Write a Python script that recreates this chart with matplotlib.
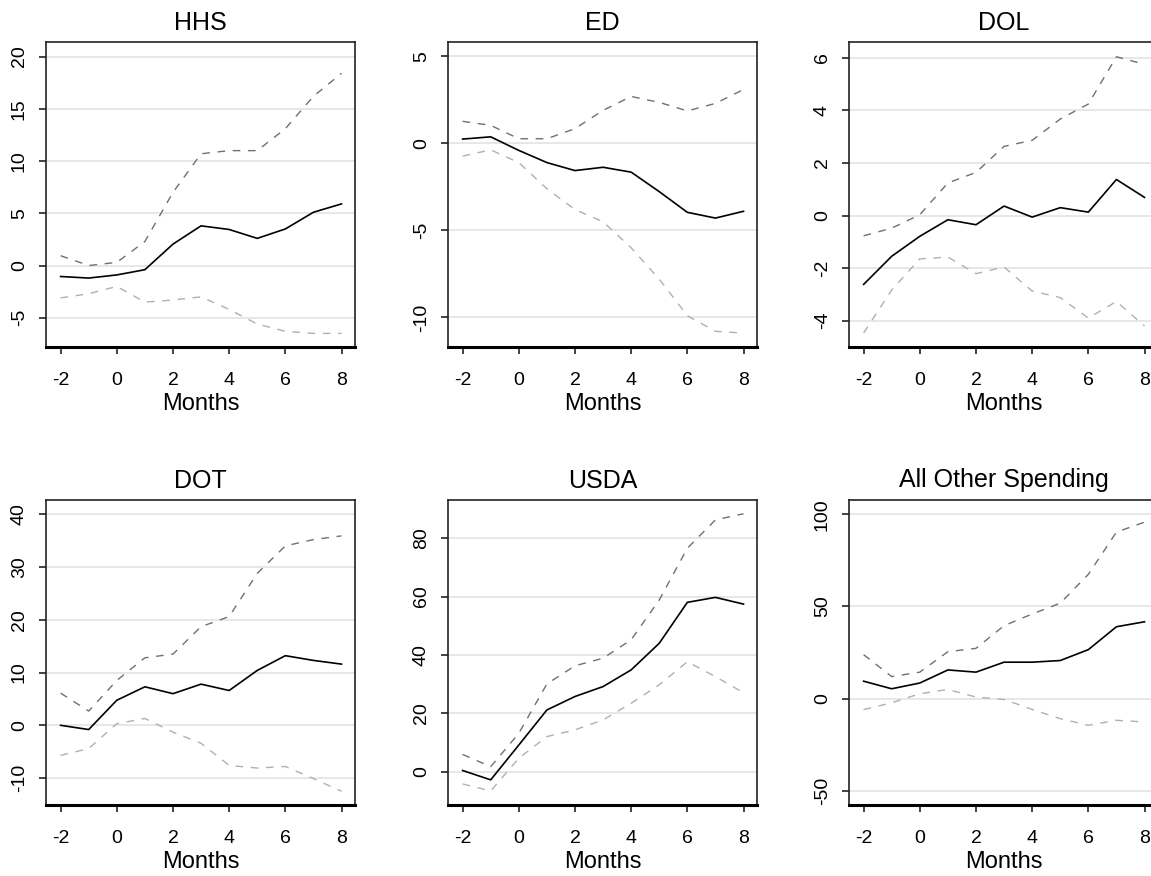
import numpy as np
import matplotlib
matplotlib.use("Agg")
import matplotlib.pyplot as plt

plt.rcParams['font.family'] = ['Liberation Sans', 'DejaVu Sans']
plt.rcParams['axes.unicode_minus'] = False

months = [-2, -1, 0, 1, 2, 3, 4, 5, 6, 7, 8]

titles = ["HHS", "ED", "DOL", "DOT", "USDA", "All Other Spending"]

# point estimates
hhs_est = [-1.05, -1.2, -0.9, -0.4, 2.05, 3.8, 3.45, 2.6, 3.5, 5.1, 5.9]
ed_est = [0.25, 0.38, -0.4, -1.1, -1.56, -1.37, -1.65, -2.77, -3.96, -4.29, -3.9]
dol_est = [-2.62, -1.55, -0.79, -0.16, -0.35, 0.36, -0.06, 0.3, 0.13, 1.37, 0.69]
dot_est = [0.0, -0.8, 4.75, 7.3, 6.0, 7.8, 6.6, 10.4, 13.2, 12.3, 11.6]
usda_est = [0.5, -2.7, 9.2, 21.2, 25.8, 29.2, 34.9, 44.0, 58.0, 59.7, 57.4]
other_est = [9.5, 5.4, 8.5, 15.6, 14.4, 19.8, 19.8, 20.7, 26.6, 39.0, 41.7]

# upper bounds
hhs_hi = [0.94, 0.0, 0.3, 2.3, 7.0, 10.7, 11.0, 11.0, 13.1, 16.2, 18.4]
ed_hi = [1.27, 1.04, 0.27, 0.27, 0.85, 1.9, 2.7, 2.36, 1.87, 2.3, 3.1]
dol_hi = [-0.77, -0.48, 0.03, 1.24, 1.64, 2.63, 2.86, 3.67, 4.24, 6.04, 5.75]
dot_hi = [6.1, 2.7, 8.5, 12.8, 13.5, 18.7, 20.6, 28.8, 34.0, 35.2, 35.9]
usda_hi = [6.0, 1.8, 13.2, 30.1, 36.3, 38.9, 45.2, 58.8, 76.5, 86.2, 88.3]
other_hi = [23.9, 12.0, 14.4, 25.5, 27.3, 39.6, 45.9, 51.8, 67.4, 90.3, 95.7]

# lower bounds
hhs_lo = [-3.1, -2.7, -2.0, -3.5, -3.3, -3.0, -4.2, -5.6, -6.3, -6.5, -6.5]
ed_lo = [-0.73, -0.37, -1.1, -2.6, -3.8, -4.5, -6.0, -7.8, -9.9, -10.8, -10.9]
dol_lo = [-4.47, -2.83, -1.65, -1.58, -2.21, -1.96, -2.87, -3.12, -3.9, -3.27, -4.2]
dot_lo = [-5.7, -4.4, 0.3, 1.3, -1.3, -3.4, -7.6, -8.1, -7.8, -10.1, -12.5]
usda_lo = [-4.1, -6.5, 4.7, 12.1, 14.4, 17.8, 23.5, 29.8, 37.7, 32.6, 27.1]
other_lo = [-5.9, -2.2, 2.7, 5.0, 0.9, -0.4, -5.8, -10.8, -14.4, -11.7, -12.6]

yticks = [
    [-5, 0, 5, 10, 15, 20],
    [-10, -5, 0, 5],
    [-4, -2, 0, 2, 4, 6],
    [-10, 0, 10, 20, 30, 40],
    [0, 20, 40, 60, 80],
    [-50, 0, 50, 100],
]
ylims = [(-7.8, 21.4), (-11.7, 5.83), (-5.0, 6.6), (-15.1, 42.7), (-11.3, 93.0), (-57.6, 107.7)]

est = [hhs_est, ed_est, dol_est, dot_est, usda_est, other_est]
hi = [hhs_hi, ed_hi, dol_hi, dot_hi, usda_hi, other_hi]
lo = [hhs_lo, ed_lo, dol_lo, dot_lo, usda_lo, other_lo]

W, H = 1151, 876
fig = plt.figure(figsize=(W / 100, H / 100), dpi=100)

lefts = [46, 448, 849]
tops = [42, 500]
aw, ah = 309, 305

for i in range(6):
    r, c = divmod(i, 3)
    ax = fig.add_axes([lefts[c] / W, 1 - (tops[r] + ah) / H, aw / W, ah / H])
    ax.set_xlim(-2.52, 8.48)
    ax.set_ylim(*ylims[i])
    ax.set_yticks(yticks[i])
    ax.set_xticks([-2, 0, 2, 4, 6, 8])
    for t in yticks[i]:
        ax.axhline(t, color='#e3e3e3', lw=1.2, zorder=0)
    ax.plot(months, hi[i], color='#707070', lw=1.0, ls=(0, (5.5, 5.5)))
    ax.plot(months, lo[i], color='#b0b0b0', lw=1.0, ls=(0, (5.5, 5.5)))
    ax.plot(months, est[i], color='black', lw=1.2)
    ax.set_title(titles[i], fontsize=18, pad=9)
    ax.set_xlabel("Months", fontsize=17, labelpad=3)
    ax.tick_params(axis='both', labelsize=14, length=5, width=1.2, color='#222222')
    ax.tick_params(axis='x', pad=13)
    ax.tick_params(axis='y', pad=8)
    for lab in ax.get_yticklabels():
        lab.set_rotation(90)
        lab.set_va('center')
    for s in ax.spines.values():
        s.set_linewidth(1.2)
        s.set_color('#222222')
    ax.spines['bottom'].set_linewidth(2.2)
    ax.spines['bottom'].set_color('black')

fig.savefig("out.png", dpi=100)
